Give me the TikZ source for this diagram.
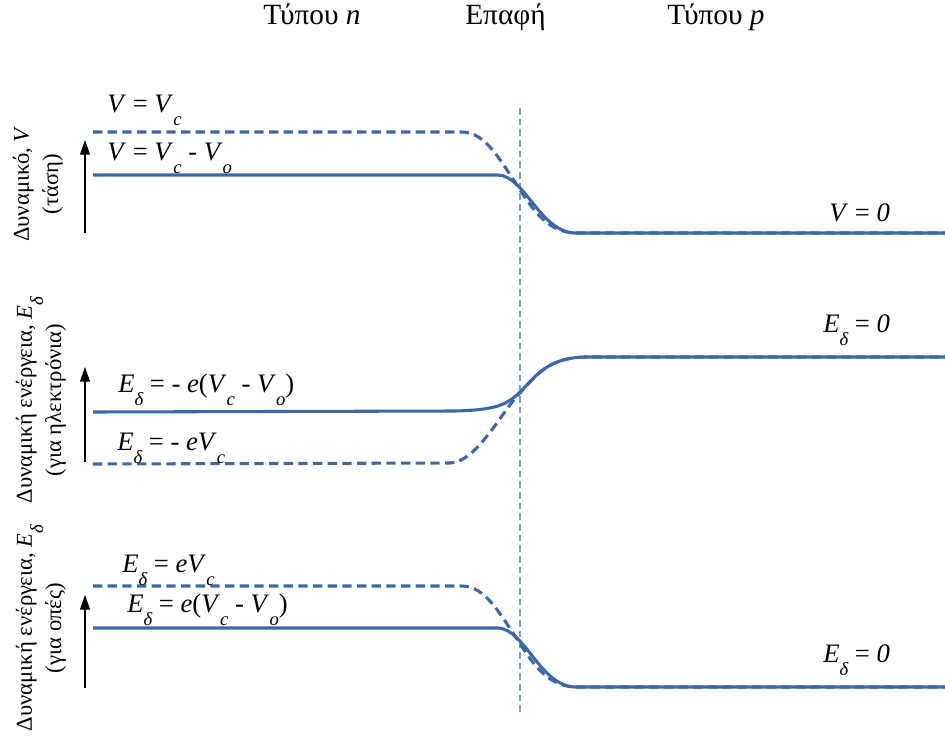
\documentclass[tikz,border=0pt]{standalone}
\usepackage{fontspec}
\setmainfont{Liberation Serif}
\usetikzlibrary{arrows.meta}

% italic subscript, set low as in the figure
\newcommand{\lowsub}[1]{\raisebox{-0.5em}{\fontsize{14pt}{16pt}\selectfont\itshape #1}}

\definecolor{bandblue}{RGB}{59,104,170}
\definecolor{junctionblue}{RGB}{125,158,205}

\tikzset{
  level/.style={bandblue, line width=2.3pt},
  levelold/.style={bandblue, line width=2.3pt, dash pattern=on 7pt off 4pt},
  axisarrow/.style={-{Triangle[length=11pt,width=7.5pt]}, black, line width=0.8pt},
  eqlabel/.style={anchor=base west, inner sep=0pt, font=\fontsize{20pt}{24pt}\selectfont},
  axislabel/.style={rotate=90, align=center, inner sep=0pt, font=\fontsize{17pt}{22pt}\selectfont},
  headlabel/.style={anchor=base west, inner sep=0pt, font=\fontsize{22pt}{26pt}\selectfont}
}

\begin{document}
\begin{tikzpicture}[x=0.75pt, y=-0.75pt]

        \useasboundingbox (0,0) rectangle (945,742);

        % Region names
        \node[headlabel] (typen) at (263,25) {Τύπου \textit{n}};
        \node[headlabel] (contact) at (465,25) {Επαφή};
        \node[headlabel] (typep) at (667,25) {Τύπου \textit{p}};

        % Junction plane
        \draw[junctionblue, line width=0.8pt, dash pattern=on 5pt off 3pt] (520,108) -- (520,712);

        % Potential V
        \draw[levelold] (93,132) -- (462,132)
            .. controls (485,132) and (500,160) .. (515,182)
            .. controls (530,205) and (545,232) .. (575,233) -- (945,233);
        \draw[level] (93,175) -- (498,175)
            .. controls (525,176) and (540,232) .. (575,233) -- (945,233);
        \draw[axisarrow] (85,233) -- (85,140);
        \node[axislabel] (potlabel) at (38,184) {Δυναμικό, \textit{V}\\(τάση)};
        \node[eqlabel] (vc) at (107,112) {\textit{V} = \textit{V}\lowsub{c}};
        \node[eqlabel] (vco) at (107,160) {\textit{V} = \textit{V}\lowsub{c} - \textit{V}\lowsub{o}};
        \node[eqlabel] (vzero) at (829,221) {\textit{V} = \textit{0}};

        % Energy for electrons
        \draw[levelold] (93,464) -- (450,463)
            .. controls (475,462) and (497,420) .. (517,396)
            .. controls (535,378) and (545,358) .. (585,357) -- (945,357);
        \draw[level] (93,412) -- (455,411)
            .. controls (495,410) and (505,405) .. (517,395)
            .. controls (535,378) and (545,358) .. (585,357) -- (945,357);
        \draw[axisarrow] (85,462) -- (85,367);
        \node[axislabel] (elabel) at (41,400) {Δυναμική ενέργεια, \textit{E}\lowsub{δ}\\(για ηλεκτρόνια)};
        \node[eqlabel] (eco) at (118,392) {\textit{E}\lowsub{δ} = - \textit{e}(\textit{V}\lowsub{c} - \textit{V}\lowsub{o})};
        \node[eqlabel] (ec) at (117,450) {\textit{E}\lowsub{δ} = - \textit{eV}\lowsub{c}};
        \node[eqlabel] (ezero) at (823,332) {\textit{E}\lowsub{δ} = \textit{0}};

        % Energy for holes
        \draw[levelold] (93,586) -- (462,586)
            .. controls (485,586) and (500,614) .. (515,636)
            .. controls (530,659) and (545,686) .. (575,687) -- (945,687);
        \draw[level] (93,628) -- (498,628)
            .. controls (525,629) and (540,686) .. (575,687) -- (945,687);
        \draw[axisarrow] (85,688) -- (85,595);
        \node[axislabel] (hlabel) at (41,628) {Δυναμική ενέργεια, \textit{E}\lowsub{δ}\\(για οπές)};
        \node[eqlabel] (hc) at (122,572) {\textit{E}\lowsub{δ} = \textit{eV}\lowsub{c}};
        \node[eqlabel] (hco) at (127,612) {\textit{E}\lowsub{δ} = \textit{e}(\textit{V}\lowsub{c} - \textit{V}\lowsub{o})};
        \node[eqlabel] (hzero) at (823,662) {\textit{E}\lowsub{δ} = \textit{0}};

\end{tikzpicture}
\end{document}
